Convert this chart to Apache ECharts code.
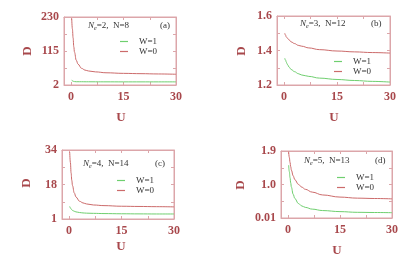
<!DOCTYPE html>
<html>
<head>
<meta charset="utf-8">
<script src="https://cdn.jsdelivr.net/npm/echarts@6/dist/echarts.min.js"></script>
<style>html,body{margin:0;padding:0;background:#fff}#c{width:417px;height:259px}</style>
</head>
<body>
<div id="c"></div>
<script>
// Data
const U = [0.2, 0.4, 0.6, 0.8, 1, 1.5, 2, 3, 4, 5, 7, 10, 15, 20, 25, 30];
const xTickLabels = [0, 15, 30];

const aW1 = [19, 16, 14.5, 14, 13.5, 13, 13, 13, 12.8, 12.8, 12.7, 12.6, 12.5, 12.5, 12.5, 12.5];
const aW0 = [225, 190, 160, 130, 112, 85, 72, 58, 52, 49, 46, 43, 41, 40, 39, 38];
const aYTicks = ['2', '115', '230'];

const bW1 = [1.355, 1.345, 1.335, 1.325, 1.317, 1.302, 1.29, 1.277, 1.266, 1.258, 1.25, 1.24, 1.232, 1.226, 1.221, 1.217];
const bW0 = [1.5, 1.49, 1.48, 1.475, 1.47, 1.46, 1.45, 1.44, 1.43, 1.425, 1.415, 1.405, 1.397, 1.392, 1.388, 1.385];
const bYTicks = ['1.2', '1.4', '1.6'];

const cW1 = [7, 6.3, 5.8, 5.4, 5.1, 4.7, 4.4, 4.1, 3.9, 3.8, 3.7, 3.6, 3.5, 3.45, 3.4, 3.4];
const cW0 = [33, 28, 23, 19.5, 17, 13.5, 11.5, 9.5, 8.7, 8.2, 7.7, 7.4, 7.1, 7.0, 6.9, 6.8];
const cYTicks = ['1', '18', '34'];

const dW1 = [1.5, 1.32, 1.15, 1.0, 0.88, 0.68, 0.56, 0.42, 0.35, 0.31, 0.26, 0.22, 0.19, 0.17, 0.165, 0.16];
const dW0 = [1.88, 1.72, 1.58, 1.46, 1.36, 1.2, 1.09, 0.96, 0.88, 0.82, 0.74, 0.66, 0.6, 0.57, 0.56, 0.55];
const dYTicks = ['0.01', '1.0', '1.9'];

const seriesNames = ['W=1', 'W=0'];

// Styles / layout
const RED = '#cc6b6b', GREEN = '#6fcf6f', LBL = '#a8484c', BORDER = '#dca6aa';
const SERIF = '"Liberation Serif", "DejaVu Serif", serif';

const panels = [
  {grid: {left: 64, top: 17, width: 112, height: 68}, y: [2, 230], ticks: aYTicks, w1: aW1, w0: aW0,
   ne: '2', n: '8', tag: '(a)', note: [88, 27], tagPos: [160, 27], leg: [120, 37], D: [28, 51], Upos: [121, 118]},
  {grid: {left: 277, top: 16, width: 113, height: 69}, y: [1.2, 1.6], ticks: bYTicks, w1: bW1, w0: bW0,
   ne: '3', n: '12', tag: '(b)', note: [300, 25], tagPos: [371, 25], leg: [334, 57], D: [242, 51], Upos: [334, 118]},
  {grid: {left: 62, top: 150, width: 112, height: 69}, y: [1, 34], ticks: cYTicks, w1: cW1, w0: cW0,
   ne: '4', n: '14', tag: '(c)', note: [83, 165], tagPos: [155, 165], leg: [117, 176], D: [27, 183], Upos: [121, 247]},
  {grid: {left: 281, top: 151, width: 111, height: 67}, y: [0.01, 1.9], ticks: dYTicks, w1: dW1, w0: dW0,
   ne: '5', n: '13', tag: '(d)', note: [304, 162], tagPos: [375, 162], leg: [337, 173], D: [241, 185], Upos: [337, 251]}
];

const grid = [], xAxis = [], yAxis = [], series = [], legend = [], graphic = [];

panels.forEach((p, i) => {
  grid.push(Object.assign({show: true, borderColor: BORDER, borderWidth: 1, backgroundColor: 'transparent'}, p.grid));
  const [ymin, ymax] = p.y;
  const ymid = (ymin + ymax) / 2;
  const yLabelVals = [ymin, ymid, ymax];
  const yTickVals = [0, 1, 2, 3, 4].map(k => ymin + (ymax - ymin) * k / 4);
  const xTickVals = [0, 7.5, 15, 22.5, 30];
  const axisLine = {show: true, onZero: false, lineStyle: {color: BORDER, width: 1}};
  const tick = (vals) => ({show: true, inside: true, length: 3, customValues: vals, lineStyle: {color: BORDER, width: 1}});
  xAxis.push({type: 'value', gridIndex: i, min: -2, max: 30, position: 'bottom',
    axisLine, axisTick: tick(xTickVals), splitLine: {show: false},
    axisLabel: {customValues: xTickLabels, color: LBL, fontFamily: SERIF, fontWeight: 'bold', fontSize: 12, margin: 6}});
  xAxis.push({type: 'value', gridIndex: i, min: -2, max: 30, position: 'top',
    axisLine, axisTick: tick(xTickVals), splitLine: {show: false}, axisLabel: {show: false}});
  yAxis.push({type: 'value', gridIndex: i, min: ymin, max: ymax, position: 'left',
    axisLine, axisTick: tick(yTickVals), splitLine: {show: false},
    axisLabel: {customValues: yLabelVals, color: LBL, fontFamily: SERIF, fontWeight: 'bold', fontSize: 12, margin: 5,
      formatter: (v) => {
        let best = 0;
        yLabelVals.forEach((c, k) => { if (Math.abs(c - v) < Math.abs(yLabelVals[best] - v)) best = k; });
        return p.ticks[best];
      }}});
  yAxis.push({type: 'value', gridIndex: i, min: ymin, max: ymax, position: 'right',
    axisLine, axisTick: tick(yTickVals), splitLine: {show: false}, axisLabel: {show: false}});

  const xi = i * 2, yi = i * 2;
  series.push({name: seriesNames[0], type: 'line', xAxisIndex: xi, yAxisIndex: yi, symbol: 'none',
    smooth: 0.4, smoothMonotone: 'x', lineStyle: {color: GREEN, width: 1}, itemStyle: {color: GREEN},
    data: U.map((u, k) => [u, p.w1[k]])});
  series.push({name: seriesNames[1], type: 'line', xAxisIndex: xi, yAxisIndex: yi, symbol: 'none',
    smooth: 0.4, smoothMonotone: 'x', lineStyle: {color: RED, width: 1}, itemStyle: {color: RED},
    data: U.map((u, k) => [u, p.w0[k]])});

  legend.push({left: p.leg[0], top: p.leg[1], orient: 'vertical', itemWidth: 8, itemHeight: 1.2, itemGap: 1, padding: 0,
    icon: 'rect', data: seriesNames, selectedMode: false,
    textStyle: {fontFamily: SERIF, fontSize: 9, color: '#333', padding: [0, 0, 0, 6]}});

  graphic.push({type: 'text', left: p.note[0], top: p.note[1] - 6,
    style: {text: '{i|N}{s|e}=' + p.ne + ',  N=' + p.n, fill: '#333', font: '9px ' + SERIF,
      rich: {i: {fontStyle: 'italic', fontFamily: SERIF, fontSize: 9, fill: '#333'},
             s: {fontStyle: 'italic', fontFamily: SERIF, fontSize: 6, fill: '#333', verticalAlign: 'bottom', padding: [5, 0, 0, 0]}}}});
  graphic.push({type: 'text', left: p.tagPos[0], top: p.tagPos[1] - 6,
    style: {text: p.tag, fill: '#333', font: '9px ' + SERIF}});
  graphic.push({type: 'text', x: p.D[0], y: p.D[1], rotation: Math.PI / 2,
    style: {text: 'D', fill: LBL, font: 'bold 13px ' + SERIF, align: 'center', verticalAlign: 'middle'}});
  graphic.push({type: 'text', x: p.Upos[0], y: p.Upos[1],
    style: {text: 'U', fill: LBL, font: 'bold 13px ' + SERIF, align: 'center', verticalAlign: 'middle'}});
});

const chart = echarts.init(document.getElementById('c'), null, {renderer: 'canvas'});
chart.setOption({animation: false, backgroundColor: '#fff', grid, xAxis, yAxis, series, legend, graphic});
</script>
</body>
</html>
